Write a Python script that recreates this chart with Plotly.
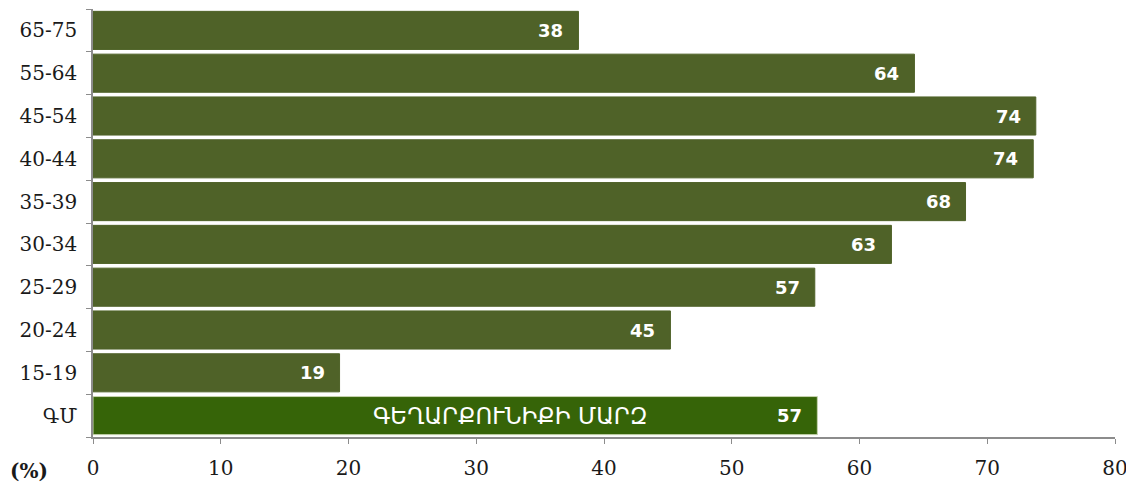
import plotly.graph_objects as go

categories = ["ԳՄ", "15-19", "20-24", "25-29", "30-34", "35-39", "40-44", "45-54", "55-64", "65-75"]
values = [56.7, 19.3, 45.2, 56.5, 62.5, 68.3, 73.6, 73.8, 64.3, 38.0]
labels = ["57", "19", "45", "57", "63", "68", "74", "74", "64", "38"]
region_name = "ԳԵՂԱՐՔՈՒՆԻՔԻ ՄԱՐԶ"
x_ticks = [0, 10, 20, 30, 40, 50, 60, 70, 80]

bar_colors = ["#366408"] + ["#4f6228"] * (len(categories) - 1)
line_colors = ["#c8d4b0"] + ["#4f6228"] * (len(categories) - 1)

fig = go.Figure()
fig.add_trace(go.Bar(
    y=categories, x=values, orientation="h",
    marker=dict(color=bar_colors, line=dict(color=line_colors, width=1)),
    hoverinfo="x+y",
))

for c, v, t in zip(categories, values, labels):
    fig.add_annotation(x=v, y=c, text=t, xanchor="right", xshift=-13, showarrow=False,
                       font=dict(family="DejaVu Sans", size=18, color="white", weight="bold"))

fig.add_annotation(x=0.408, y=categories[0], xref="paper", text=region_name, showarrow=False,
                   xanchor="center", font=dict(family="DejaVu Sans", size=23, color="white"))

fig.add_annotation(x=-0.083, y=-0.08, xref="paper", yref="paper", text="<b>(%)</b>",
                   showarrow=False, xanchor="left", yanchor="middle",
                   font=dict(family="DejaVu Serif", size=20, color="#1a1a1a"))

fig.update_layout(
    width=1126, height=483,
    margin=dict(l=85, r=19, t=1, b=54),
    paper_bgcolor="white", plot_bgcolor="white",
    bargap=0.11,
    showlegend=False,
    xaxis=dict(range=[0, 80], tickvals=x_ticks, showgrid=False, zeroline=False,
               showline=True, linecolor="#8c8c8c", linewidth=1.5,
               ticks="outside", ticklen=5, tickcolor="#8c8c8c",
               ticklabelstandoff=7,
               tickfont=dict(family="DejaVu Serif", size=20, color="#1a1a1a")),
    yaxis=dict(type="category", categoryorder="array", categoryarray=categories,
               range=[-0.5, len(categories) - 0.5],
               showgrid=False, zeroline=False,
               showline=True, linecolor="#8c8c8c", linewidth=1.5,
               ticks="outside", ticklen=5, tickcolor="#8c8c8c", tickson="boundaries",
               ticklabelstandoff=10,
               tickfont=dict(family="DejaVu Serif", size=20, color="#1a1a1a")),
)

fig.write_html("out.html")
